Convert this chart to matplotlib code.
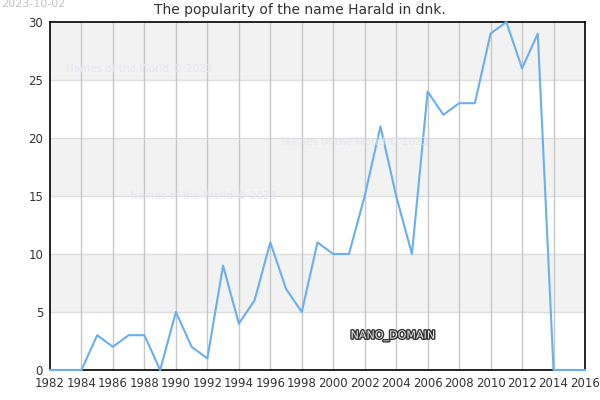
import numpy as np
import matplotlib
matplotlib.use("Agg")
import matplotlib.pyplot as plt
import matplotlib.patheffects as pe

# Data
years = list(range(1982, 2017))
counts = [0, 0, 0, 3, 2, 3, 3, 0, 5, 2, 1, 9, 4, 6, 11, 7, 5, 11, 10, 10,
          15, 21, 15, 10, 24, 22, 23, 23, 29, 30, 26, 29, 0, 0, 0]
xticks = list(range(1982, 2017, 2))
yticks = [0, 5, 10, 15, 20, 25, 30]

fig = plt.figure(figsize=(6, 4), dpi=100)
ax = fig.add_axes([50 / 600, 30 / 400, 535 / 600, 348 / 400])

# alternating horizontal bands
for i in range(len(yticks) - 1):
    if i % 2 == 1:
        ax.axhspan(yticks[i], yticks[i + 1], color="#f2f2f2", zorder=0, lw=0)
for y in yticks[1:-1]:
    ax.axhline(y, color="#dddddd", lw=1, zorder=1)
for x in xticks[1:-1]:
    ax.axvline(x, color="#c8c8c8", lw=1, zorder=1)

ax.plot(years, counts, color="#6aaef0", lw=1.5, zorder=5, clip_on=False)

ax.set_xlim(1982, 2016)
ax.set_ylim(0, 30)
ax.set_xticks(xticks)
ax.set_yticks(yticks)
ax.tick_params(length=0, labelsize=8.5, labelcolor="#333333", pad=5)
for s in ax.spines.values():
    s.set_color("black")
    s.set_linewidth(1.2)
    s.set_zorder(4)

fig.text(0.5, 0.975, "The popularity of the name Harald in dnk.", ha="center",
         va="center", fontsize=10, color="#333333")
fig.text(0.002, 0.99, "2023-10-02", ha="left", va="center", fontsize=8,
         color="#c4c4c4")

wm = "#e6e6f5"
fig.text(66 / 600, 1 - 69 / 400, "Names of the World © 2023", fontsize=7.5,
         color=wm, va="center", ha="left")
fig.text(282 / 600, 1 - 142 / 400, "Names of the World © 2023", fontsize=7.5,
         color=wm, va="center", ha="left")
fig.text(130 / 600, 1 - 196 / 400, "Names of the World © 2023", fontsize=7.5,
         color=wm, va="center", ha="left")

t = fig.text(393 / 600, 1 - 336 / 400, "NANO_DOMAIN", fontsize=8, color="#e8e8e8",
             ha="center", va="center")
t.set_path_effects([pe.withStroke(linewidth=2, foreground="#333333")])

fig.savefig("out.png", dpi=100)
